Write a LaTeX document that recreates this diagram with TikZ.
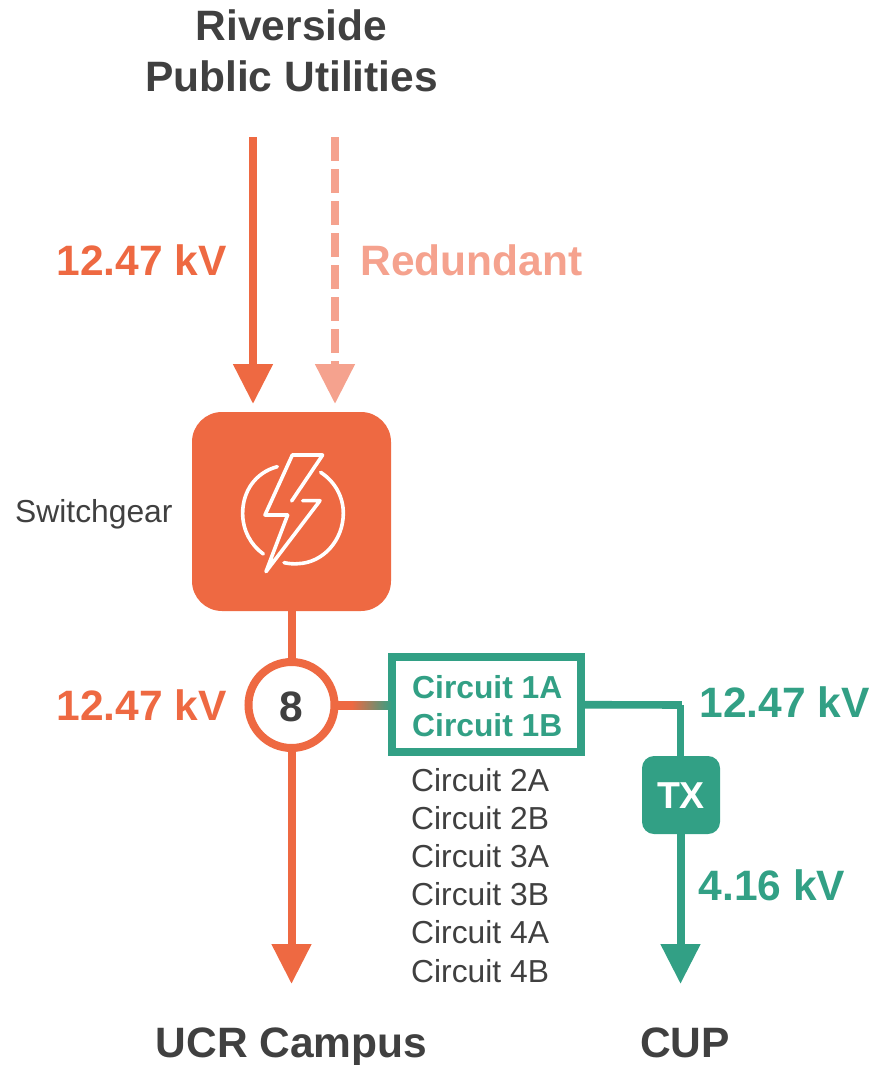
\documentclass[tikz,border=0pt]{standalone}
\usepackage{fontspec}
\setmainfont{Liberation Sans}
\usetikzlibrary{arrows.meta}
\definecolor{orangeC}{HTML}{EE6942}
\definecolor{paleC}{HTML}{F5A28E}
\definecolor{greenC}{HTML}{32A085}
\definecolor{darkC}{HTML}{404040}
\pgfdeclarehorizontalshading{linkfade}{100bp}{color(0bp)=(orangeC); color(40bp)=(orangeC); color(75bp)=(greenC); color(100bp)=(greenC)}
\tikzset{
  big/.style={font=\bfseries\fontsize{42.5}{42.5}\selectfont,anchor=base},
  lab/.style={font=\fontsize{31.8}{31.8}\selectfont,text=darkC,anchor=base west,inner sep=0pt},
  circ/.style={font=\bfseries\fontsize{31.8}{31.8}\selectfont,text=greenC,anchor=base west,inner sep=0pt},
  wire/.style={line width=8pt},
  feed/.style={wire,-{Triangle[length=40pt,width=38pt]}},
  icon/.style={white,line width=3.6pt,line cap=round,line join=round}
}
\begin{document}
\begin{tikzpicture}[x=1pt,y=-1pt]
\useasboundingbox (0,0) rectangle (874,1065);
% titles
\node[big,text=darkC] (t1) at (291.5,41) {Riverside};
\node[big,text=darkC] (t2) at (291.5,91) {Public Utilities};
\node[big,text=orangeC] (v1) at (141.5,275) {12.47 kV};
\node[big,text=paleC] (red) at (471.5,275) {Redundant};
\node[big,text=orangeC] (v2) at (141.5,720) {12.47 kV};
\node[big,text=greenC] (v3) at (784.5,717) {12.47 kV};
\node[big,text=greenC] (v4) at (772,900) {4.16 kV};
\node[big,text=darkC] (ucr) at (291.5,1057) {UCR Campus};
\node[big,text=darkC] (cup) at (685,1057) {CUP};
\node[lab,anchor=base west] (sw) at (15,522) {Switchgear};
% switchgear
\node[draw=none,fill=orangeC,rounded corners=30pt,minimum width=199pt,minimum height=199pt,inner sep=0pt] (gear) at (291.5,511.5) {};
% feeders
\coordinate (a1) at (253,137);
\coordinate (a2) at (253,404);
\coordinate (b1) at (335,137);
\coordinate (b2) at (335,404);
\draw[feed,orangeC] (a1) -- (a2);
\draw[feed,paleC,dash pattern=on 24pt off 8pt] (b1) -- (b2);
% ring and campus line
\node[circle,draw=orangeC,line width=8pt,fill=white,minimum size=86pt,inner sep=0pt,outer sep=0pt] (ring) at (291.5,705) {};
\node[big,text=darkC] (eight) at (291.5,721) {8};
\coordinate (c2) at (291.5,984);
\draw[wire,orangeC] (gear.south) -- (ring.north);
\draw[feed,orangeC] (ring.south) -- (c2);
% circuit box
\node[draw=greenC,line width=8pt,fill=white,minimum width=189.6pt,minimum height=94.7pt,inner sep=0pt,outer sep=0pt] (box) at (486.5,704.7) {};
\node[circ] (c1a) at (412,698) {Circuit 1A};
\node[circ] (c1b) at (412,736) {Circuit 1B};
\node[lab] (c2a) at (411,791) {Circuit 2A};
\node[lab] (c2b) at (411,829) {Circuit 2B};
\node[lab] (c3a) at (411,867) {Circuit 3A};
\node[lab] (c3b) at (411,905) {Circuit 3B};
\node[lab] (c4a) at (411,943) {Circuit 4A};
\node[lab] (c4b) at (411,982) {Circuit 4B};
% ring to box
\shade[shading=linkfade] (ring.east |- 0,701) rectangle (box.west |- 0,709);
% TX
\node[fill=greenC,rounded corners=12pt,minimum width=78pt,minimum height=78pt,inner sep=0pt,outer sep=0pt] (tx) at (681,795) {};
\node[anchor=base,text=white,font=\bfseries\fontsize{37.5}{37.5}\selectfont] (txl) at (681,808) {TX};
\coordinate (k) at (680.3,705);
\coordinate (kk) at (681.8,705);
\coordinate (d2) at (680.5,984);
\draw[wire,greenC,line width=7.6pt] (box.east) -- (kk);
\draw[wire,greenC,line width=7.6pt] (k) -- (k |- tx.north);
\draw[feed,greenC] (d2 |- tx.south) -- (d2);
% icon
\begin{scope}[shift={(180,400)},x=0.3333pt,y=-0.3333pt]
\draw[icon] (292,200) .. controls (225,218) and (188,275) .. (188,340) .. controls (188,390) and (212,435) .. (250,462);
\draw[icon] (312,488) .. controls (330,492) and (345,492) .. (355,491) .. controls (430,488) and (490,420) .. (490,340) .. controls (490,290) and (465,245) .. (422,217);
\draw[icon] (335,303) -- (428,165) -- (337,165) -- (255,345) -- (323,345) -- (258,515) -- (420,302) -- (368,302);
\end{scope}
\end{tikzpicture}
\end{document}
